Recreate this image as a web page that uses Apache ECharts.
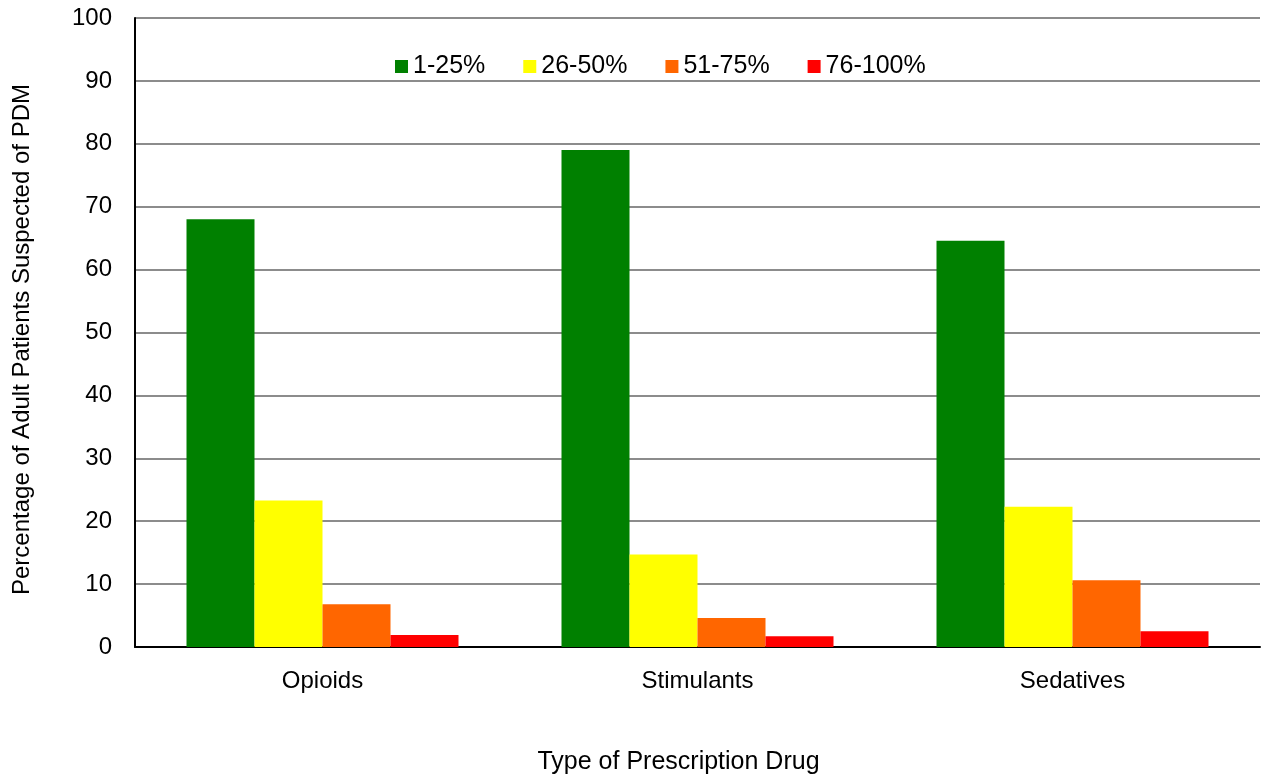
<!DOCTYPE html>
<html>
<head>
<meta charset="utf-8">
<script src="https://cdn.jsdelivr.net/npm/echarts@6/dist/echarts.min.js"></script>
<style>
  html, body { margin: 0; padding: 0; background: #fff; }
  #chart0 { width: 1263px; height: 781px; }
</style>
</head>
<body>
<div id="chart0"></div>
<script>
// categories and bands
var drugs = ['Opioids', 'Stimulants', 'Sedatives'];
var bands = ['1-25%', '26-50%', '51-75%', '76-100%'];
var bandColors = ['#008000', '#ffff00', '#ff6600', '#ff0000'];

// percentage of adult patients per band
var band1 = [68.0, 79.0, 64.6];
var band2 = [23.3, 14.7, 22.3];
var band3 = [6.8, 4.6, 10.6];
var band4 = [1.9, 1.7, 2.5];

var yTicks = { min: 0, max: 100, interval: 10 };

var fontFam = '"Liberation Sans", Arial, sans-serif';

var seriesData = [band1, band2, band3, band4];
var series = bands.map(function(name, i) {
	return {
		name: name,
		type: 'bar',
		data: seriesData[i],
		barWidth: 68,
		barGap: '0%',
		itemStyle: { color: bandColors[i] }
	};
});

var myChart = echarts.init(document.getElementById('chart0'));
myChart.setOption({
	animation: false,
	textStyle: { fontFamily: fontFam },
	grid: { left: 135, right: 3, top: 18, bottom: 134, outerBoundsMode: 'none' },
	legend: {
		top: 49,
		left: 390,
		itemWidth: 13,
		itemHeight: 13,
		itemGap: 38,
		icon: 'rect',
		textStyle: { fontSize: 25, color: '#000', fontFamily: fontFam },
		data: bands
	},
	xAxis: {
		type: 'category',
		data: drugs,
		axisLine: { lineStyle: { color: '#000', width: 2 } },
		axisTick: { show: false },
		axisLabel: { fontSize: 24, color: '#000', margin: 22 },
		name: 'Type of Prescription Drug',
		nameLocation: 'middle',
		nameGap: 103,
		nameTextStyle: { fontSize: 25, color: '#000', padding: [0, 38, 0, 0] }
	},
	yAxis: {
		type: 'value',
		min: yTicks.min,
		max: yTicks.max,
		interval: yTicks.interval,
		axisLine: { show: true, lineStyle: { color: '#000', width: 2 } },
		axisTick: { show: false },
		axisLabel: { fontSize: 24, color: '#000', margin: 23 },
		splitLine: { lineStyle: { color: '#8c8c8c', width: 2 } },
		name: 'Percentage of Adult Patients Suspected of PDM',
		nameLocation: 'middle',
		nameGap: 101,
		nameTextStyle: { fontSize: 24, color: '#000', padding: [0, 14, 0, 0] }
	},
	series: series
});

window.addEventListener('resize', function() {
	myChart.resize();
});
</script>
</body>
</html>
